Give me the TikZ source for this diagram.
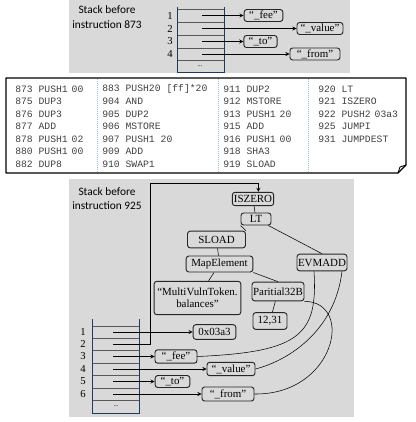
\documentclass[tikz,border=0pt]{standalone}
\usepackage{fontspec}
\setmainfont{Liberation Serif}
\setmonofont{Liberation Mono}
\newfontfamily\capfont{Carlito}
\definecolor{panelgray}{HTML}{D9D9D9}
\definecolor{stackblue}{HTML}{1F3A5F}
\definecolor{sepblue}{HTML}{9DC3E6}
\newcommand{\gap}{\hspace{0.4em}}
\begin{document}
\begin{tikzpicture}[x=0.75pt,y=-0.75pt,>=stealth,
 panel/.style={fill=panelgray},
 caption/.style={font=\capfont\fontsize{8.5}{9}\selectfont,inner sep=0pt},
 box/.style={draw=black!85,rounded corners=2pt,line width=0.7pt,
  font=\fontsize{8.2}{9}\selectfont,inner sep=0.5pt,minimum height=9pt},
 code/.style={anchor=west,font=\ttfamily\fontsize{7.3}{8}\selectfont,text=black!75,inner sep=0pt},
 cell/.style={draw=black!65,line width=0.4pt},
 stack/.style={draw=stackblue,line width=0.7pt},
 num/.style={font=\fontsize{8}{8}\selectfont,inner sep=0pt},
 dots/.style={font=\fontsize{5}{6}\selectfont,inner sep=0pt}]
 \useasboundingbox (0,0) rectangle (415,422);
 % stack before 873
 \fill[panel] (69,0) rectangle (350,73);
 \node[caption] (cap1) at (107,10) {Stack before};
 \node[caption] (cap2) at (107,25) {instruction 873};
 \foreach \y in {9,22,35,48,60} \draw[cell] (177,\y) -- (224,\y);
 \draw[stack] (177,7) -- (177,72) -- (224,72) -- (224,7);
 \foreach \i/\y in {1/15.5,2/28.5,3/41.5,4/54} {
  \node[num] (tn\i) at (170,\y) {\i};
  \coordinate (tr\i) at (202,\y);
 }
 \node[dots] (tdots) at (200,66) {...};
 \node[box,minimum width=29pt] (tfee) at (263.5,15.5) {“\_fee”};
 \node[box,minimum width=34.5pt] (tvalue) at (320,28.5) {“\_value”};
 \node[box,minimum width=25pt] (tto) at (260.5,41.5) {“\_to”};
 \node[box,minimum width=37.5pt] (tfrom) at (315,54) {“\_from”};
 \draw[->] (tr1) -- (tfee);
 \draw[->] (tr2) -- (tvalue);
 \draw[->] (tr3) -- (tto);
 \draw[->] (tr4) -- (tfrom);
 % code listing
 \draw[line width=0.9pt,line join=round] (6,78) -- (406,78) -- (406,165) -- (398,173) -- (6,173) -- cycle;
 \draw[line width=0.7pt] (398,173) -- (400,167) -- (406,165);
 \foreach \x in {97,218,308} \draw[sepblue,densely dotted,line width=0.5pt] (\x,79) -- (\x,172);
 \foreach \t [count=\i] in {873 PUSH1\gap00,875 DUP3,876 DUP3,877 ADD,878 PUSH1\gap02,880 PUSH1\gap00,882 DUP8}
  \node[code] (ca\i) at (15,{76.5+12.5*\i}) {\t};
 \foreach \t [count=\i] in {{883 PUSH20 [ff]*20},904 AND,905 DUP2,906 MSTORE,907 PUSH1 20,909 ADD,910 SWAP1}
  \node[code] (cb\i) at (102,{76.5+12.5*\i}) {\t};
 \foreach \t [count=\i] in {911 DUP2,912 MSTORE,913 PUSH1\gap20,915 ADD,916 PUSH1\gap00,918 SHA3,919 SLOAD}
  \node[code] (cc\i) at (223,{76.5+12.5*\i}) {\t};
 \foreach \t [count=\i] in {920 LT,921 ISZERO,922 PUSH2\gap03a3,925 JUMPI,931 JUMPDEST}
  \node[code] (cd\i) at (318,{76.5+12.5*\i}) {\t};
 % stack before 925
 \fill[panel] (69,179) rectangle (354,417);
 \node[caption] (cap3) at (107,192) {Stack before};
 \node[caption] (cap4) at (107,206) {instruction 925};
 \node[box,minimum width=31pt,minimum height=10pt] (iszero) at (253,199) {ISZERO};
 \node[box,minimum width=22.5pt] (lt) at (256,219) {LT};
 \node[box,minimum width=43.5pt,minimum height=12.5pt] (sload) at (216.5,239.5) {SLOAD};
 \node[box,minimum width=50pt,minimum height=12pt] (mapel) at (219.5,264) {MapElement};
 \node[box,minimum width=37.5pt,minimum height=12.5pt] (evmadd) at (322,262.5) {EVMADD};
 \node[box,minimum width=65pt,minimum height=25pt,align=center] (token) at (197.5,298) {“MultiVulnToken.\\balances”};
 \node[box,minimum width=39pt,minimum height=14pt] (part) at (278,291.5) {Paritial32B};
 \node[box,minimum width=25.5pt,minimum height=12.5pt] (range) at (270,321) {12,31};
 \draw (iszero) -- (lt);
 \draw (lt.south west) -- (sload.north east);
 \draw (lt) -- (evmadd.north);
 \draw (sload) -- (mapel);
 \draw (mapel) -- (token);
 \draw (mapel.south east) -- (part.north);
 \draw (part) -- (range);
 \foreach \y in {326,338,350,363,375,388,400} \draw[cell] (92,\y) -- (139,\y);
 \draw[stack] (92,319) -- (92,413) -- (139,413) -- (139,319);
 \foreach \i/\y in {1/332,2/344,3/356.5,4/369,5/381.5,6/394} {
  \node[num] (bn\i) at (83,\y) {\i};
  \coordinate (br\i) at (113,\y);
 }
 \node[dots] (bdots) at (116,406.5) {...};
 \node[box,minimum width=32pt,minimum height=11pt] (jump) at (214.5,332) {0x03a3};
 \node[box,minimum width=31.5pt,minimum height=10pt] (bfee) at (176,356.5) {“\_fee”};
 \node[box,minimum width=36pt,minimum height=10pt] (bvalue) at (231,369) {“\_value”};
 \node[box,minimum width=26pt,minimum height=9pt] (bto) at (172.5,381.5) {“\_to”};
 \node[box,minimum width=39pt,minimum height=10.5pt] (bfrom) at (228,394) {“\_from”};
 \draw[->] (br1) -- (jump);
 \draw[->] (br2) -- (150,344) -- (150,183) -| ([xshift=4]iszero.north);
 \draw[->] (br3) -- (bfee);
 \draw[->] (br4) -- (bvalue);
 \draw[->] (br5) -- (bto);
 \draw[->] (br6) -- (bfrom);
 \draw ([xshift=-6]evmadd.south) .. controls (318,335) and (300,352) .. (bfee.east);
 \draw ([xshift=15]evmadd.south) .. controls (335,330) and (290,360) .. (bvalue.east);
 \draw (part.south east) .. controls (355,302) and (335,395) .. (bfrom.east);
\end{tikzpicture}
\end{document}
